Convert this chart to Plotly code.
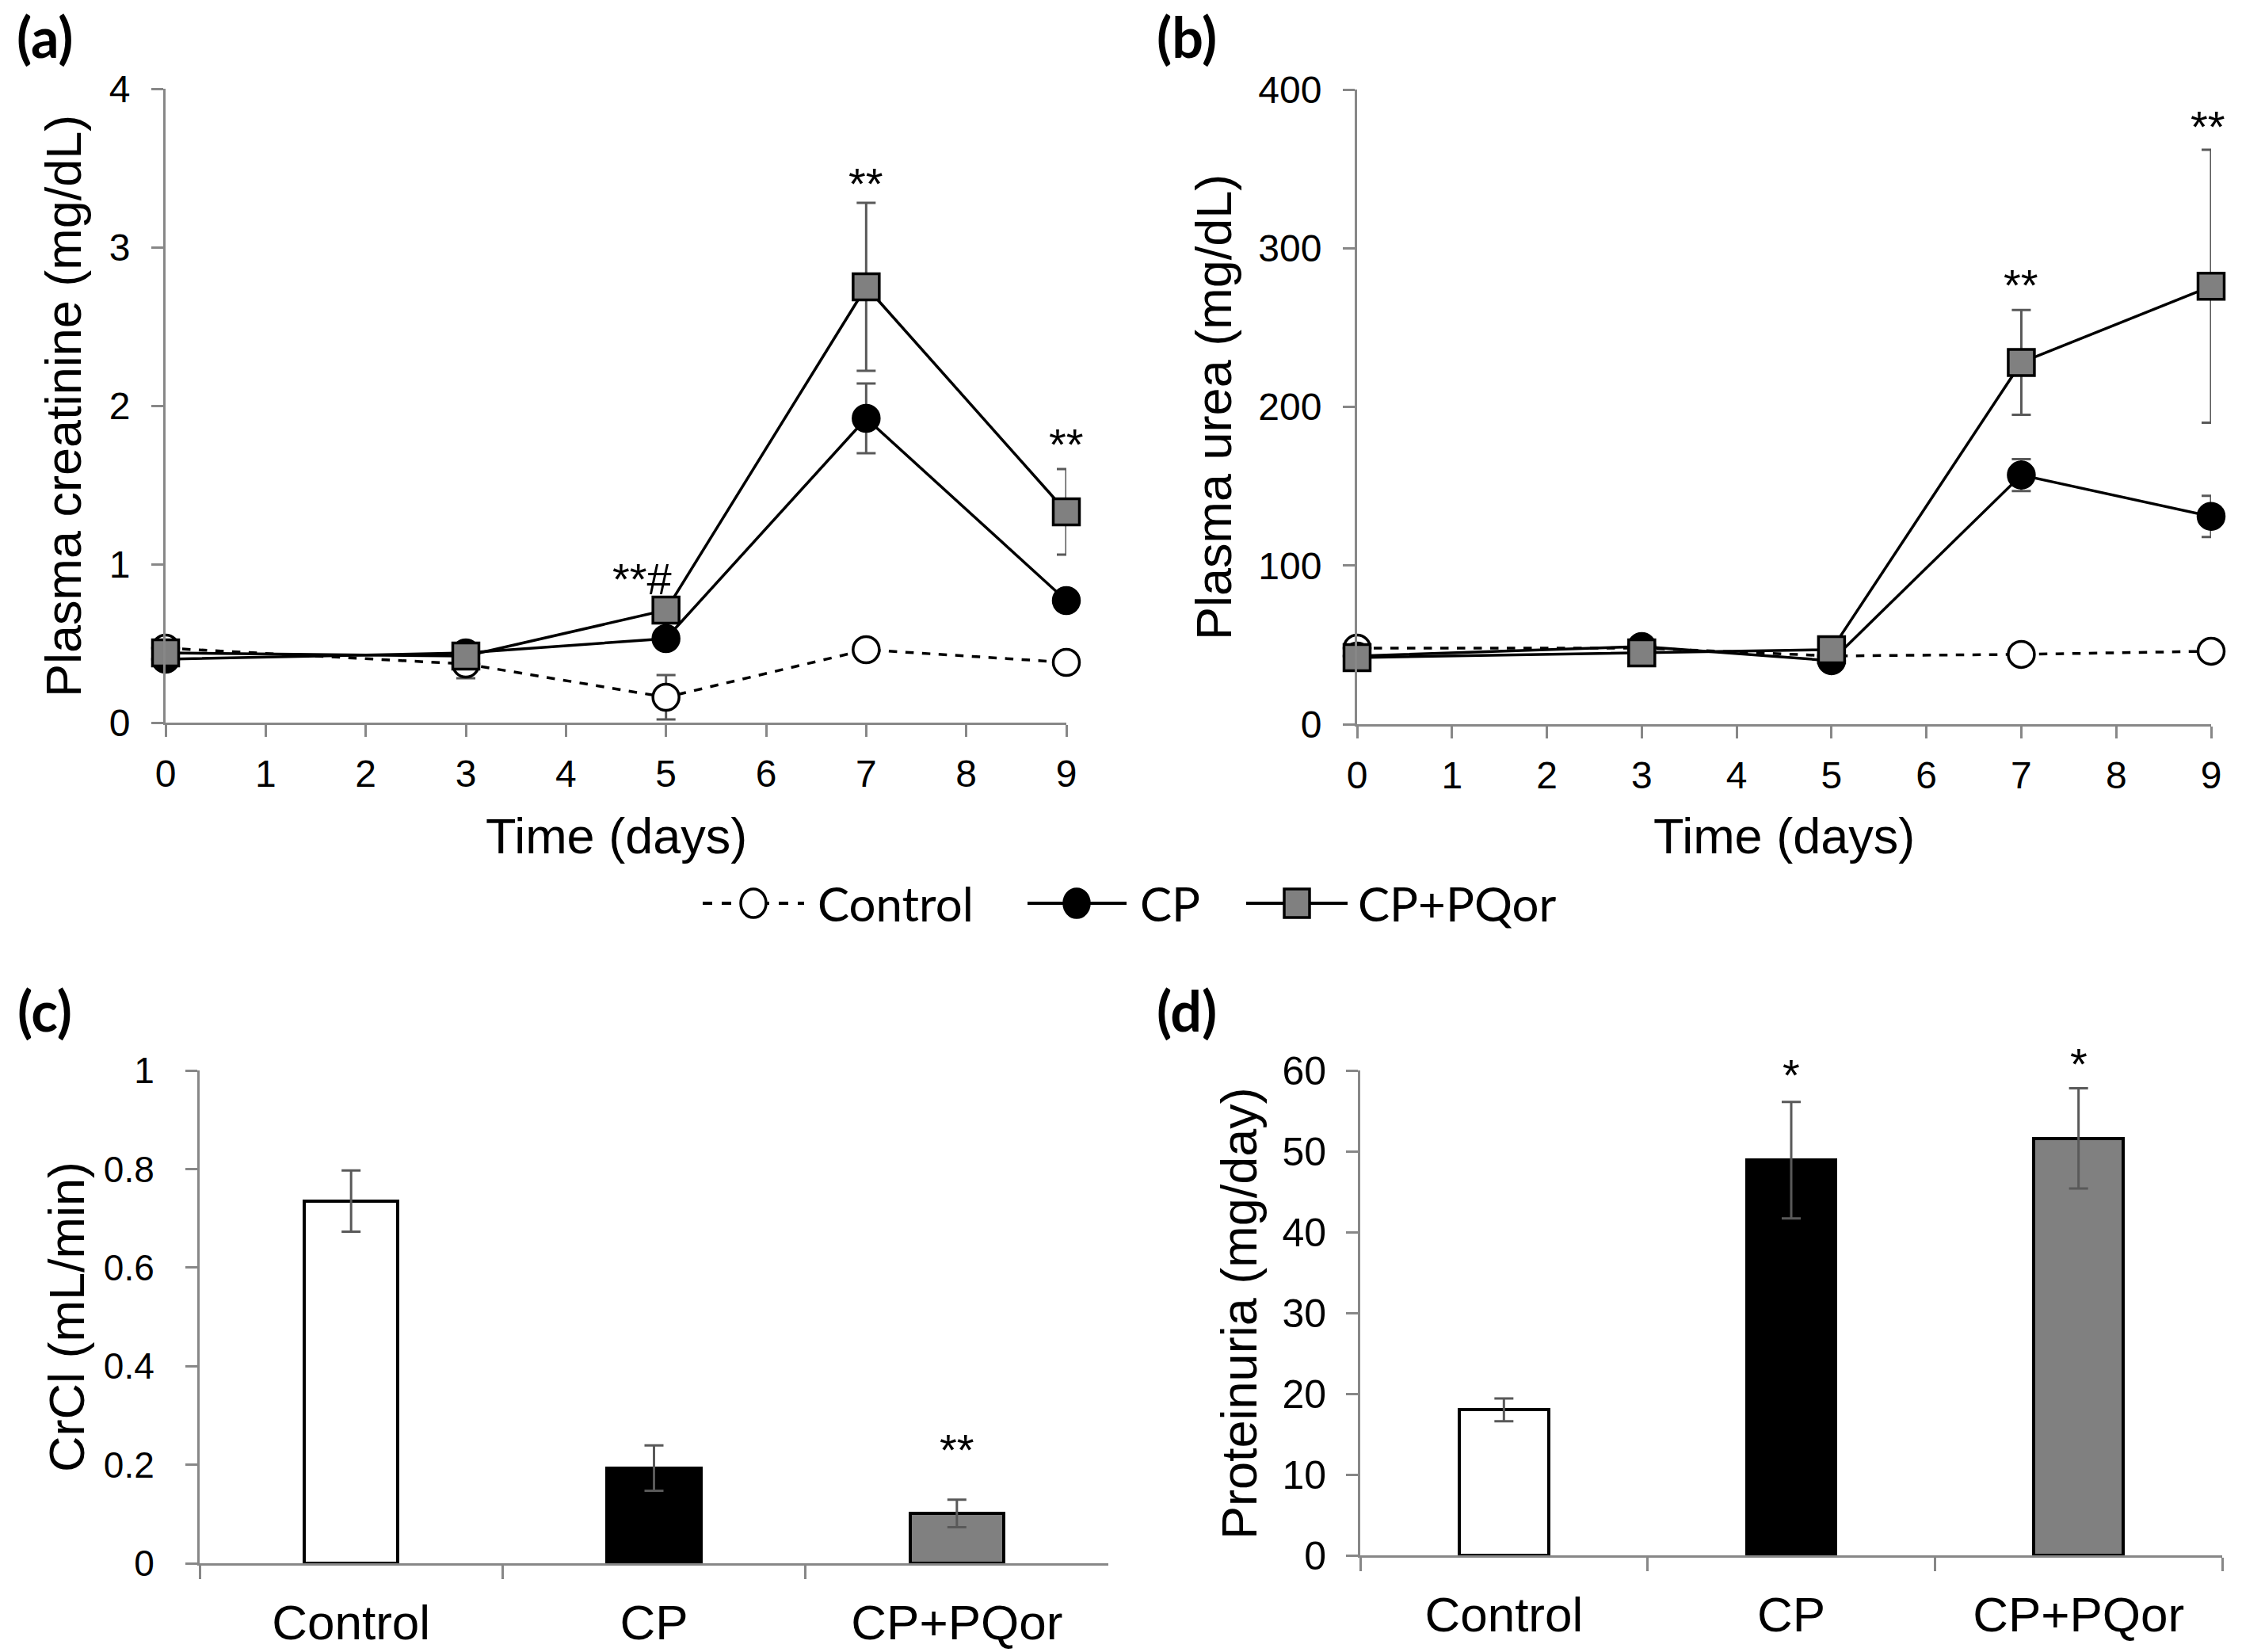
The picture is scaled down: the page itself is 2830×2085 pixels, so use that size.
import plotly.graph_objects as go

W, H = 2830, 2085

# ---- data ----
days = [0, 3, 5, 7, 9]
groups = ['Control', 'CP', 'CP+PQor']

creat_ctrl = [0.47, 0.37, 0.16, 0.46, 0.38]
creat_ctrl_err = [0.05, 0.09, 0.14, 0.03, 0.03]
creat_cp = [0.40, 0.44, 0.53, 1.92, 0.77]
creat_cp_err = [0.03, 0.04, 0.04, 0.22, 0.04]
creat_pq = [0.44, 0.42, 0.71, 2.75, 1.33]
creat_pq_err = [0.05, 0.04, 0.05, 0.53, 0.27]

urea_ctrl = [48, 48, 43, 44, 46]
urea_ctrl_err = [3, 2, 2, 2, 2]
urea_cp = [43, 49, 40, 157, 131]
urea_cp_err = [2, 3, 2, 10, 13]
urea_pq = [42, 45, 47, 228, 276]
urea_pq_err = [3, 3, 2, 33, 86]

crcl = [0.735, 0.193, 0.101]
crcl_err = [0.062, 0.046, 0.028]
prot = [18.0, 48.9, 51.6]
prot_err = [1.4, 7.2, 6.2]

# significance marks: (x, y, text, pixel shift x, pixel shift up)
creat_sig = [(5, 0.91, '**#', -30, 0), (7, 3.40, '**', 0, 0), (9, 1.76, '**', 0, 0)]
urea_sig = [(7, 277, '**', 0, 0), (9, 377, '**', -4, 0)]
crcl_sig = [(2, 0.23, '**', 0, 0)]
prot_sig = [(1, 59.5, '*', 0, 0), (2, 60, '*', 0, 9)]

FONT = 'Liberation Sans, Arial, sans-serif'
LEG_FONT = 'Lato, Calibri, sans-serif'
AX_GRAY = '#878787'
ERR_GRAY = '#595959'
PQ_GRAY = '#808080'


def dom_x(a, b):
    return [a / W, b / W]


def dom_y(top, bottom):
    return [1 - bottom / H, 1 - top / H]


fig = go.Figure()

styles = [
    dict(name='Control', dash='dash', symbol='circle', fill='white'),
    dict(name='CP', dash='solid', symbol='circle', fill='black'),
    dict(name='CP+PQor', dash='solid', symbol='square', fill=PQ_GRAY),
]

# (a) creatinine and (b) urea
for xa, ya, series in [
    ('x', 'y', [(creat_ctrl, creat_ctrl_err), (creat_cp, creat_cp_err), (creat_pq, creat_pq_err)]),
    ('x2', 'y2', [(urea_ctrl, urea_ctrl_err), (urea_cp, urea_cp_err), (urea_pq, urea_pq_err)]),
]:
    for st, (vals, errs) in zip(styles, series):
        fig.add_trace(go.Scatter(
            x=days, y=vals, xaxis=xa, yaxis=ya, name=st['name'],
            mode='lines+markers', cliponaxis=False, showlegend=False,
            line=dict(color='black', width=3.5, dash=st['dash']),
            marker=dict(symbol=st['symbol'], size=33, color=st['fill'],
                        line=dict(color='black', width=3.5)),
            error_y=dict(type='data', array=errs, color=ERR_GRAY,
                         thickness=3, width=12),
        ))

# (c) CrCl and (d) proteinuria
bar_fills = ['white', 'black', PQ_GRAY]
for xa, ya, vals, errs in [('x3', 'y3', crcl, crcl_err), ('x4', 'y4', prot, prot_err)]:
    fig.add_trace(go.Bar(
        x=groups, y=vals, xaxis=xa, yaxis=ya, width=0.31, showlegend=False,
        marker=dict(color=bar_fills, line=dict(color='black', width=4)),
        error_y=dict(type='data', array=errs, color=ERR_GRAY,
                     thickness=3, width=12),
    ))

axis_common = dict(
    showgrid=False, zeroline=False, showline=True, linecolor=AX_GRAY,
    linewidth=3, ticks='outside', ticklen=15, tickwidth=3, tickcolor=AX_GRAY,
    automargin=False,
    tickfont=dict(family=FONT, size=48, color='black'),
)

layout = dict(
    width=W, height=H, margin=dict(l=0, r=0, t=0, b=0, autoexpand=False),
    paper_bgcolor='white', plot_bgcolor='white', showlegend=False,
    bargap=0,
    xaxis=dict(axis_common, domain=dom_x(209, 1346), anchor='y',
               range=[0, 9], dtick=1, tick0=0, ticklabelstandoff=5),
    yaxis=dict(axis_common, domain=dom_y(112, 912), anchor='x',
               range=[0, 4], dtick=1, ticklabelstandoff=17),
    xaxis2=dict(axis_common, domain=dom_x(1713, 2791), anchor='y2',
                range=[0, 9], dtick=1, tick0=0, ticklabelstandoff=5),
    yaxis2=dict(axis_common, domain=dom_y(113, 914), anchor='x2',
                range=[0, 400], dtick=100, ticklabelstandoff=17),
    xaxis3=dict(axis_common, domain=dom_x(252, 1399), anchor='y3',
                type='category', range=[-0.5, 2.5], tickson='boundaries',
                ticklen=17, ticklabelstandoff=19,
                tickfont=dict(family=FONT, size=62, color='black')),
    yaxis3=dict(axis_common, domain=dom_y(1351, 1973), anchor='x3',
                range=[0, 1], dtick=0.2, ticklabelstandoff=30,
                tickfont=dict(family=FONT, size=46, color='black')),
    xaxis4=dict(axis_common, domain=dom_x(1717, 2805), anchor='y4',
                type='category', range=[-0.5, 2.5], tickson='boundaries',
                ticklen=17, ticklabelstandoff=19,
                tickfont=dict(family=FONT, size=62, color='black')),
    yaxis4=dict(axis_common, domain=dom_y(1351, 1963), anchor='x4',
                range=[0, 60], dtick=10, ticklabelstandoff=15,
                tickfont=dict(family=FONT, size=50, color='black')),
)

ann = []
# panel letters
for txt, cx, cy in [('(a)', 56, 46), ('(b)', 1498, 46), ('(c)', 56, 1275), ('(d)', 1498, 1275)]:
    ann.append(dict(text='<b>%s</b>' % txt, x=cx / W, y=1 - cy / H, xref='paper', yref='paper',
                    showarrow=False, xanchor='center', yanchor='middle',
                    font=dict(family=LEG_FONT, size=70, color='black')))

# axis titles
for txt, cx, cy, ang in [
    ('Plasma creatinine (mg/dL)', 80, 513, -90),
    ('Plasma urea (mg/dL)', 1532, 514, -90),
    ('CrCl (mL/min)', 84, 1662, -90),
    ('Proteinuria (mg/day)', 1564, 1657, -90),
    ('Time (days)', 778, 1055, 0),
    ('Time (days)', 2252, 1055, 0),
]:
    ann.append(dict(text=txt, x=cx / W, y=1 - cy / H, xref='paper', yref='paper',
                    showarrow=False, xanchor='center', yanchor='middle', textangle=ang,
                    font=dict(family=FONT, size=63, color='black')))

# significance marks
for xr, yr, marks in [('x', 'y', creat_sig), ('x2', 'y2', urea_sig)]:
    for dx, dy, t, sx, sh in marks:
        ann.append(dict(text=t, x=dx, y=dy, xref=xr, yref=yr, showarrow=False,
                        xanchor='center', yanchor='middle', xshift=sx, yshift=sh,
                        font=dict(family=FONT, size=56, color='black')))
for xr, yr, marks in [('x3', 'y3', crcl_sig), ('x4', 'y4', prot_sig)]:
    for gi, dy, t, sx, sh in marks:
        ann.append(dict(text=t, x=groups[gi], y=dy, xref=xr, yref=yr, showarrow=False,
                        xanchor='center', yanchor='middle', xshift=sx, yshift=sh,
                        font=dict(family=FONT, size=56, color='black')))

# custom legend (decoration drawn in paper space)
shapes = []
leg_y = 1140
leg_items = [
    ('Control', 887, 1015, 951, 1030, 'dash', 'circle', 'white'),
    ('CP', 1297, 1422, 1359, 1437, 'solid', 'circle', 'black'),
    ('CP+PQor', 1573, 1701, 1637, 1712, 'solid', 'square', PQ_GRAY),
]
for name, lx0, lx1, mx, tx, dash, sym, fill in leg_items:
    py = 1 - leg_y / H
    shapes.append(dict(type='line', xref='paper', yref='paper', x0=lx0 / W, x1=lx1 / W,
                       y0=py, y1=py, line=dict(color='black', width=4, dash=dash)))
    r = 16
    shapes.append(dict(type='circle' if sym == 'circle' else 'rect', xref='paper', yref='paper',
                       x0=(mx - r) / W, x1=(mx + r) / W,
                       y0=1 - (leg_y + r + 2) / H, y1=1 - (leg_y - r - 2) / H,
                       fillcolor=fill, line=dict(color='black', width=3.5)))
    ann.append(dict(text=name, x=tx / W, y=py, xref='paper', yref='paper', showarrow=False,
                    xanchor='left', yanchor='middle',
                    font=dict(family=LEG_FONT, size=60, color='black')))

layout['annotations'] = ann
layout['shapes'] = shapes
fig.update_layout(**layout)

# page body has a default margin; drop it so the figure fills the window exactly
fig.write_html("out.html", config={'displayModeBar': False},
               post_script="document.body.style.margin='0';")
